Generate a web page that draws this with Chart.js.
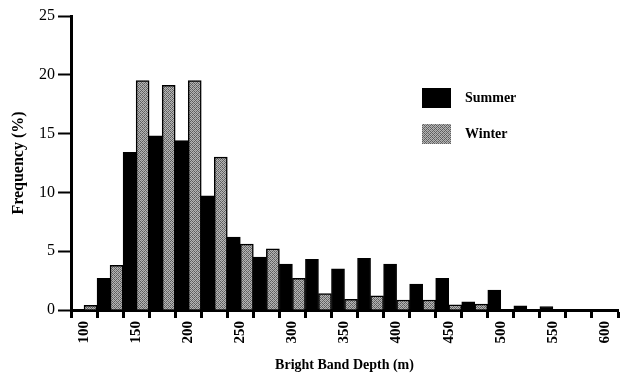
<!DOCTYPE html>
<html>
<head>
<meta charset="utf-8">
<script src="https://cdn.jsdelivr.net/npm/chart.js@4/dist/chart.umd.min.js"></script>
<style>
  html, body { margin: 0; padding: 0; background: #fff; }
  #wrap { width: 626px; height: 380px; position: relative; }
</style>
</head>
<body>
<div id="wrap"><canvas id="chart"></canvas></div>
<script>
// bin start depths (m), 25 m wide
const depthBins = [100, 125, 150, 175, 200, 225, 250, 275, 300, 325, 350,
  375, 400, 425, 450, 475, 500, 525, 550, 575, 600];
// frequency (%) per bin
const summer = [0, 2.7, 13.4, 14.8, 14.4, 9.7, 6.2, 4.5, 3.9, 4.3, 3.5,
  4.4, 3.9, 2.2, 2.7, 0.7, 1.7, 0.35, 0.3, 0, 0];
const winter = [0.4, 3.8, 19.5, 19.1, 19.5, 13.0, 5.6, 5.2, 2.7, 1.4, 0.9,
  1.2, 0.85, 0.85, 0.45, 0.5, 0, 0, 0, 0, 0];
const yTicks = [0, 5, 10, 15, 20, 25];

// stippled grey fill for the winter bars
function stipple() {
  const c = document.createElement("canvas");
  c.width = 4; c.height = 4;
  const g = c.getContext("2d");
  g.fillStyle = "#5e5e5e";
  g.fillRect(0, 0, 4, 4);
  g.fillStyle = "#b4b4b4";
  [[0, 0], [2, 0], [1, 1], [3, 1], [0, 2], [2, 2], [1, 3], [3, 3]].forEach(([x, y]) => g.fillRect(x, y, 1, 1));
  g.fillStyle = "#8c8c8c";
  g.fillRect(1, 0, 1, 1); g.fillRect(3, 2, 1, 1);
  return g.createPattern(c, "repeat");
}
const grey = stipple();

const serif = "'Liberation Serif', 'DejaVu Serif', serif";

// legend boxes sitting inside the plot
const boxLegend = {
  id: "boxLegend",
  afterDraw(chart) {
    const ctx = chart.ctx;
    ctx.save();
    chart.data.datasets.forEach((ds, i) => {
      const y = 88 + i * 36;
      ctx.fillStyle = ds.backgroundColor;
      ctx.fillRect(422, y, 29, 20);
      if (i === 0) {
        ctx.lineWidth = 1;
        ctx.strokeStyle = "#000";
        ctx.strokeRect(422.5, y + 0.5, 28, 19);
      }
      ctx.fillStyle = "#000";
      ctx.font = "bold 14px " + serif;
      ctx.textBaseline = "middle";
      ctx.fillText(ds.label, 465, y + 10);
    });
    ctx.restore();
  }
};

new Chart(document.getElementById("chart"), {
  type: "bar",
  data: {
    labels: depthBins,
    datasets: [
      { label: "Summer", data: summer, backgroundColor: "#000", borderColor: "#000", borderWidth: 1 },
      { label: "Winter", data: winter, backgroundColor: grey, borderColor: "#000", borderWidth: 1.5 }
    ]
  },
  options: {
    responsive: true,
    maintainAspectRatio: false,
    animation: false,
    layout: { padding: { top: 16, right: 0, left: 0, bottom: 0 } },
    plugins: { legend: { display: false }, tooltip: { enabled: false } },
    datasets: { bar: { categoryPercentage: 1.0, barPercentage: 1.0 } },
    scales: {
      x: {
        grid: { display: true, offset: true, drawOnChartArea: false, drawTicks: true, tickLength: 8, tickWidth: 3, tickColor: "#000" },
        border: { display: true, color: "#000", width: 3 },
        ticks: {
          autoSkip: false, maxRotation: 90, minRotation: 90, padding: 3,
          color: "#000", font: { family: serif, size: 15, weight: "bold" },
          callback: (v, i) => (depthBins[i] % 50 === 0 ? String(depthBins[i]) : "")
        },
        title: { display: true, text: "Bright Band Depth (m)", color: "#000", font: { family: serif, size: 14, weight: "bold" }, padding: { top: 6, bottom: 6 } },
        afterFit: (s) => { s.height = 70; }
      },
      y: {
        min: 0, max: 25,
        afterBuildTicks: (s) => { s.ticks = yTicks.map((v) => ({ value: v })); },
        grid: { display: true, drawOnChartArea: false, drawTicks: true, tickLength: 13, tickWidth: 2, tickColor: "#000" },
        border: { display: true, color: "#000", width: 3 },
        ticks: { color: "#000", padding: 3, font: { family: serif, size: 16 } },
        title: { display: true, text: "Frequency (%)", color: "#000", font: { family: serif, size: 16, weight: "bold" }, padding: { top: 9, bottom: 4 } },
        afterFit: (s) => { s.width = 71; }
      }
    }
  },
  plugins: [boxLegend]
});
</script>
</body>
</html>
